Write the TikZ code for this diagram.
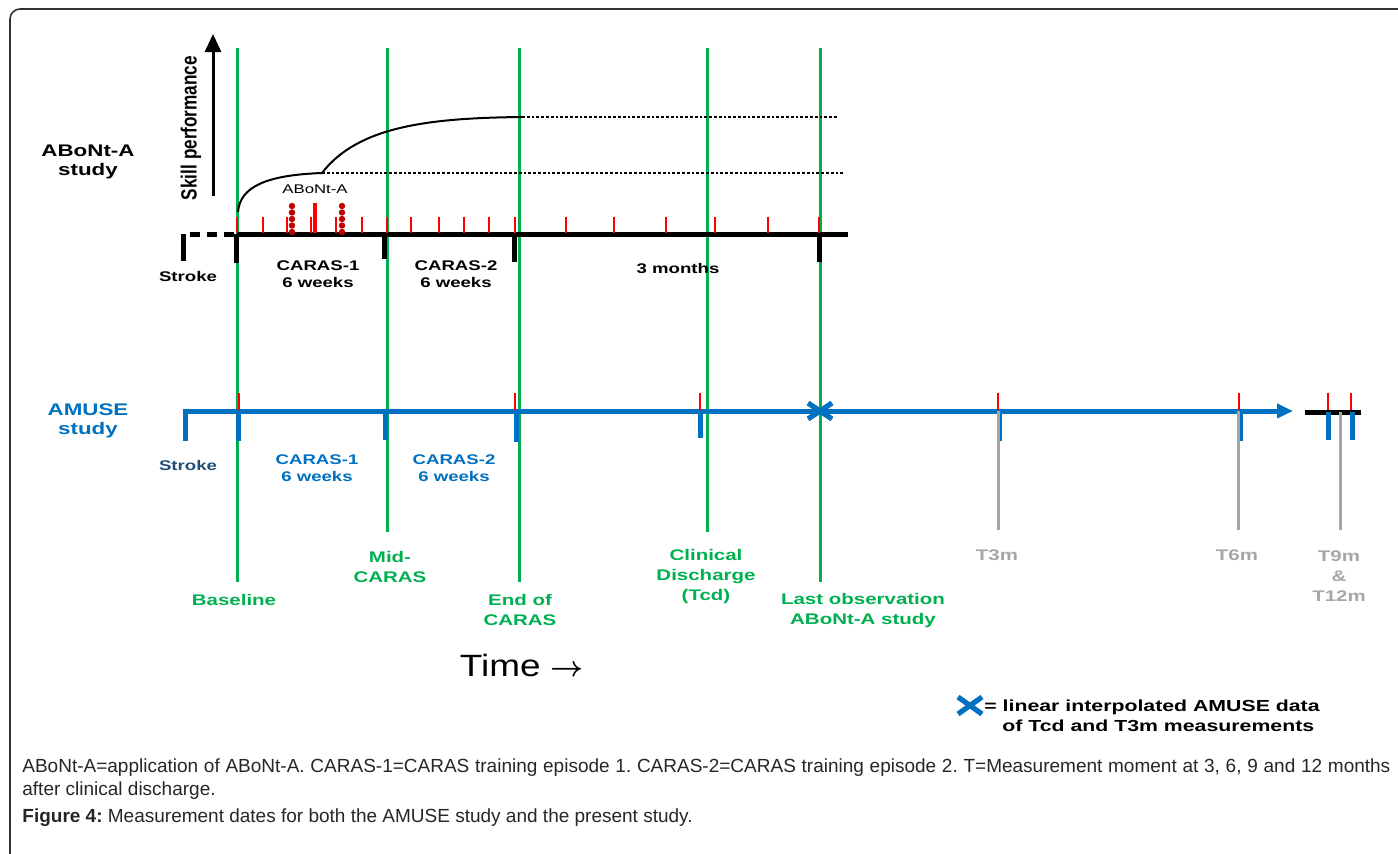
\documentclass[tikz,border=0pt]{standalone}
\usepackage{fontspec}
\usetikzlibrary{arrows.meta}
\setmainfont{Liberation Sans}
\newfontfamily\widefont[FakeStretch=1.33]{Liberation Sans}
\newfontfamily\tallfont[FakeStretch=0.78]{Liberation Sans}
\newfontfamily\timefont[FakeStretch=1.2]{Liberation Sans}
\newfontfamily\capfont{Liberation Sans}
\definecolor{grn}{HTML}{00B050}
\definecolor{blu}{HTML}{0070C0}
\definecolor{dblu}{HTML}{1F4E79}
\definecolor{gry}{HTML}{A6A6A6}
\definecolor{dred}{HTML}{C00000}
\frenchspacing
\begin{document}
\begin{tikzpicture}[x=0.5pt, y=-0.5pt,
    greenline/.style={draw=grn, line width=1.5pt},
    redtick/.style={draw=red, line width=0.7pt},
    blktick/.style={draw=black, line width=2.5pt},
    blutick/.style={draw=blu, line width=2.5pt},
    greyline/.style={draw=gry, line width=1.5pt},
    xmark/.style={draw=blu, line width=2.6pt},
    plateau/.style={line width=1pt, dash pattern=on 1.4pt off 1pt},
    lbl/.style={font=\widefont\bfseries\fontsize{7}{8.5}\selectfont, align=center, inner sep=0pt},
    glbl/.style={font=\widefont\bfseries\fontsize{7.7}{10}\selectfont, text=grn, align=center, inner sep=0pt},
    tlbl/.style={glbl, text=gry},
    study/.style={font=\widefont\bfseries\fontsize{8.4}{9.8}\selectfont, align=center, inner sep=0pt}]
    \useasboundingbox (0,0) rectangle (1398,853);

    % 外框
    \draw[black!80, line width=0.8pt, rounded corners=5pt] (10,870) -- (10,9) -- (1420,9);

    % 绿色竖线
    \draw[greenline] (237,48) -- (237,582);
    \draw[greenline] (387,48) -- (387,532);
    \draw[greenline] (519,48) -- (519,582);
    \draw[greenline] (707,48) -- (707,532);
    \draw[greenline] (820,48) -- (820,582);

    % 技能轴
    \draw[line width=1.5pt, -{Triangle[length=9pt,width=8pt]}] (213,196) -- (213,34);
    \node[rotate=90, inner sep=0pt, font=\tallfont\bfseries\fontsize{11}{12}\selectfont] (skill) at (191,128) {Skill performance};

    % 学习曲线
    \coordinate (c0) at (238,212);
    \coordinate (c1) at (322,173);
    \coordinate (c2) at (522,117);
    \coordinate (e1) at (845,173);
    \coordinate (e2) at (838,117);
    \draw[line width=1pt] (c0) .. controls (240,186) and (268,175) .. (c1);
    \draw[line width=1pt] (c1) .. controls (358,126) and (430,118) .. (c2);
    \draw[plateau] (c1) -- (e1);
    \draw[plateau] (c2) -- (e2);

    % ABoNt-A 研究时间轴
    \draw[line width=2.5pt] (237,234) -- (848,234);
    \draw[line width=2.5pt, dash pattern=on 5pt off 3.5pt] (190,234) -- (237,234);
    \draw[blktick] (183,234) -- (183,261);
    \draw[blktick] (236,234) -- (236,263);
    \draw[blktick] (384,234) -- (384,259);
    \draw[blktick] (514,234) -- (514,262);
    \draw[blktick] (819,234) -- (819,262);

    % 红色刻度
    \foreach \x in {237,263,287,311,336,362,387,411,439,464,489,515,566,614,666,715,768,819}
        \draw[redtick] (\x,217) -- (\x,233);
    \draw[draw=red, line width=2pt] (315,203) -- (315,233);
    \foreach \y in {206,212.5,219,225.5,232} {
        \fill[dred] (292,\y) circle (1.6pt);
        \fill[dred] (342,\y) circle (1.6pt);
    }
    \node[inner sep=0pt, font=\widefont\fontsize{6.3}{7}\selectfont] (bonta) at (315,189) {ABoNt-A};

    % 上方标签
    \node[study] (abstudy) at (88,162) {ABoNt-A\\study};
    \node[lbl] (stroke1) at (188,276) {Stroke};
    \node[lbl] (caras1) at (318,274) {CARAS-1\\6 weeks};
    \node[lbl] (caras2) at (456,274) {CARAS-2\\6 weeks};
    \node[lbl] (months) at (678,268) {3 months};

    % AMUSE 时间轴
    \draw[draw=blu, line width=2.5pt, -{Triangle[length=8pt,width=7pt]}] (183,411) -- (1293,411);
    \draw[blutick] (185,411) -- (185,441);
    \draw[blutick] (238,411) -- (238,441);
    \draw[blutick] (385,411) -- (385,440);
    \draw[blutick] (516,411) -- (516,442);
    \draw[blutick] (700,411) -- (700,438);
    \draw[blutick] (999,411) -- (999,441);
    \draw[blutick] (1240,411) -- (1240,441);
    \draw[line width=2.5pt] (1305,412) -- (1361,412);
    \draw[blutick] (1328,412) -- (1328,440);
    \draw[blutick] (1352,412) -- (1352,440);

    % 随访灰线
    \draw[greyline] (998,411) -- (998,530);
    \draw[greyline] (1238,411) -- (1238,530);
    \draw[greyline] (1340,412) -- (1340,530);

    % AMUSE 红色刻度
    \foreach \x in {239,515,700,998,1239,1328,1351}
        \draw[redtick] (\x,393) -- (\x,410);

    % 插值标记
    \draw[xmark] (808,403) -- (832,419);
    \draw[xmark] (808,419) -- (832,403);

    % 下方标签
    \node[study, text=blu] (amstudy) at (88,421) {AMUSE\\study};
    \node[lbl, text=dblu] (stroke2) at (188,465) {Stroke};
    \node[lbl, text=blu] (caras1b) at (317,468) {CARAS-1\\6 weeks};
    \node[lbl, text=blu] (caras2b) at (454,468) {CARAS-2\\6 weeks};

    % 测量时间点
    \node[glbl] (baseline) at (234,600) {Baseline};
    \node[glbl] (mid) at (390,567) {Mid-\\CARAS};
    \node[glbl] (endc) at (520,610) {End of\\CARAS};
    \node[glbl] (tcd) at (706,577) {Clinical\\Discharge\\(Tcd)};
    \node[glbl] (last) at (863,611) {Last observation\\ABoNt-A study};
    \node[tlbl] (t3) at (997,555) {T3m};
    \node[tlbl] (t6) at (1237,555) {T6m};
    \node[tlbl] (t912) at (1339,576) {T9m\\\&\\T12m};

    % 时间
    \node[inner sep=0pt, font=\timefont\fontsize{15.4}{16}\selectfont] (time) at (522,665) {Time \mbox{\boldmath$\rightarrow$}};

    % 图例
    \draw[xmark] (958,697) -- (982,714);
    \draw[xmark] (958,714) -- (982,697);
    \node[anchor=base west, inner sep=0pt, font=\widefont\bfseries\fontsize{8}{9}\selectfont] (leg1) at (984,711) {= linear interpolated AMUSE data};
    \node[anchor=base west, inner sep=0pt, font=\widefont\bfseries\fontsize{8}{9}\selectfont] (leg2) at (1002,731) {of Tcd and T3m measurements};

    % 图注
    \node[anchor=base west, inner sep=0pt, text=black!85, font=\capfont\fontsize{9.5}{11}\selectfont] (cap1) at (22,772)
        {\makebox[684pt][s]{ABoNt-A=application of ABoNt-A. CARAS-1=CARAS training episode 1. CARAS-2=CARAS training episode 2. T=Measurement moment at 3, 6, 9 and 12 months}};
    \node[anchor=base west, inner sep=0pt, text=black!85, font=\capfont\fontsize{9.5}{11}\selectfont] (cap2) at (22,795) {after clinical discharge.};
    \node[anchor=base west, inner sep=0pt, text=black!85, font=\capfont\fontsize{9.5}{11}\selectfont] (cap3) at (22,822) {\textbf{Figure 4:} Measurement dates for both the AMUSE study and the present study.};
\end{tikzpicture}
\end{document}
